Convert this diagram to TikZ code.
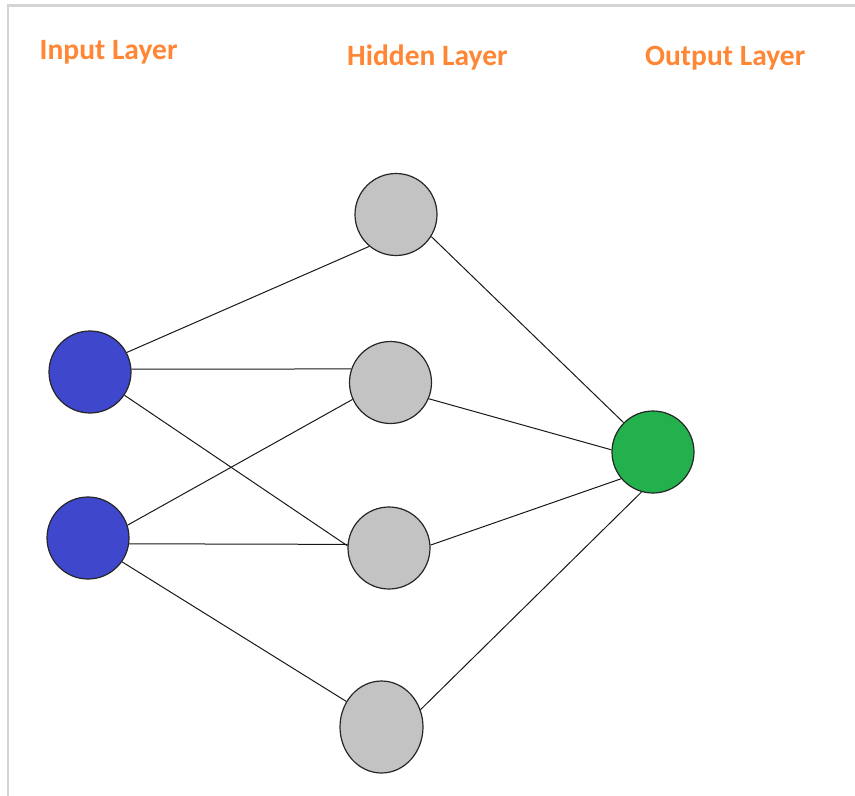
\documentclass[tikz,border=0pt]{standalone}
\usepackage{fontspec}
\setmainfont{Carlito}
\usetikzlibrary{shapes.geometric}
\definecolor{inblue}{RGB}{63,72,204}
\definecolor{hidgray}{RGB}{195,195,195}
\definecolor{outgreen}{RGB}{34,177,76}
\definecolor{lblorange}{RGB}{255,134,52}
\definecolor{framegray}{RGB}{212,212,212}
\tikzset{
  neuron/.style={circle, draw=black!85, line width=1.2pt, minimum size=82pt, inner sep=0pt},
  inneuron/.style={neuron, fill=inblue},
  hidneuron/.style={neuron, fill=hidgray},
  outneuron/.style={neuron, fill=outgreen},
  layerlabel/.style={anchor=base west, inner sep=0pt, text=lblorange, font=\fontsize{29.5}{31}\selectfont\bfseries},
  synapse/.style={draw=black!90, line width=1pt},
  frameline/.style={draw=framegray, line width=2.2pt}
}
\begin{document}
\begin{tikzpicture}[x=1pt,y=-1pt]
\useasboundingbox (0,0) rectangle (855,796);
\coordinate (fTL) at (8,5.5);
\coordinate (fTR) at (855,5.5);
\coordinate (fBL) at (8,796);
\draw[frameline] (fTR) -- (fTL) -- (fBL);

\node[layerlabel] (lin) at (39.5,59.5) {Input Layer};
\node[layerlabel] (lhid) at (347,65.5) {Hidden Layer};
\node[layerlabel] (lout) at (645,65.5) {Output Layer};

\node[inneuron] (I1) at (90,372) {};
\node[inneuron] (I2) at (88,538) {};
\node[hidneuron] (H1) at (396,214.5) {};
\node[hidneuron] (H2) at (390.5,382.5) {};
\node[hidneuron] (H3) at (389,548) {};
\node[ellipse, draw=black!85, line width=1.2pt, fill=hidgray, minimum width=83pt, minimum height=92pt, inner sep=0pt] (H4) at (381.5,727) {};
\node[outneuron] (O) at (653,452) {};

\draw[synapse] (I1.28) -- (H1.230);
\draw[synapse] (I1.4) -- (H2.161);
\draw[synapse] (I1.-34) -- (H3.177);
\draw[synapse] (I2.18) -- (H2.204);
\draw[synapse] (I2.-8) -- (H3.175);
\draw[synapse] (I2.-35) -- (H4.144);
\draw[synapse] (H1.-32) -- (O.135);
\draw[synapse] (H2.-23) -- (O.177);
\draw[synapse] (H3.4) -- (O.220);
\draw[synapse] (H4.24) -- (O.254);
\end{tikzpicture}
\end{document}
